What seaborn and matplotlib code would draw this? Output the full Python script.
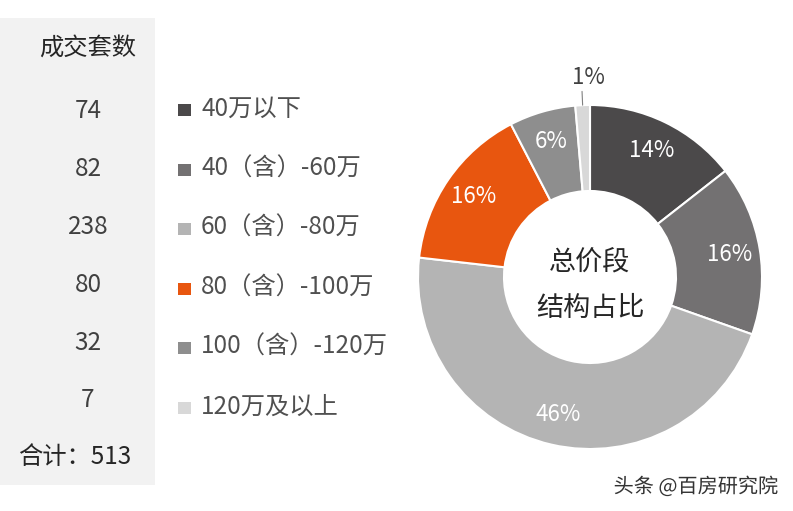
import matplotlib
matplotlib.use("Agg")
import matplotlib.pyplot as plt
import seaborn as sns
import numpy as np
from matplotlib.patches import Rectangle
import matplotlib.patheffects as pe

# data
segments = ["40万以下", "40（含）-60万", "60（含）-80万", "80（含）-100万", "100（含）-120万", "120万及以上"]
deals = [74, 82, 238, 80, 32, 7]
total = 513
colors = ["#4b494a", "#737172", "#b4b4b4", "#e8560f", "#8e8e8e", "#d8d8d8"]

sns.set_theme(style="white")
plt.rcParams["font.family"] = ["Noto Sans CJK SC", "DejaVu Sans"]

W, H = 793, 511
fig = plt.figure(figsize=(W / 100, H / 100), dpi=100)
fig.patch.set_facecolor("white")

# overlay in pixel coordinates for the table + legend
ov = fig.add_axes([0, 0, 1, 1])
ov.set_xlim(0, W)
ov.set_ylim(H, 0)
ov.axis("off")

ov.add_patch(Rectangle((0, 18), 155, 467, facecolor="#f2f2f2", edgecolor="none"))
ov.text(88, 48, "成交套数", ha="center", va="center", fontsize=17.5, color="#262626")

num_y = [111, 169, 227, 285, 343, 400]
leg_y = [109, 169, 228, 288, 347, 407]
for ny, ly, n, label, c in zip(num_y, leg_y, deals, segments, colors):
    ov.text(88, ny, str(n), ha="center", va="center", fontsize=17.5, color="#404040")
    ov.add_patch(Rectangle((178, ly - 5), 13, 12, facecolor=c, edgecolor="none"))
    ov.text(201, ly, label, ha="left", va="center", fontsize=17.5, color="#505050")
ov.text(75, 457, f"合计：{total}", ha="center", va="center", fontsize=17.5, color="#262626")

ov.text(778, 487, "头条 @百房研究院", ha="right", va="center", fontsize=14.5, color="#333333",
        path_effects=[pe.withStroke(linewidth=2, foreground="white")])

# donut
cx, cy, r = 590, 277, 172
ax = fig.add_axes([(cx - r) / W, (H - cy - r) / H, 2 * r / W, 2 * r / H])
wedges, texts, autotexts = ax.pie(
    deals, colors=colors, startangle=90, counterclock=False,
    autopct="%.0f%%", pctdistance=0.82, radius=1,
    wedgeprops=dict(width=0.5, edgecolor="white", linewidth=1.5),
    textprops=dict(color="white", fontsize=16),
)
ax.set_xlim(-1, 1)
ax.set_ylim(-1, 1)
ax.set_aspect("auto")
ax.axis("off")

# smallest slice: label outside with a short leader line
w = wedges[-1]
ang = np.deg2rad((w.theta1 + w.theta2) / 2)
autotexts[-1].set_position((1.16 * np.cos(ang) + 0.04, 1.16 * np.sin(ang)))
autotexts[-1].set_color("#404040")
autotexts[-1].set_fontsize(16)
ax.plot([1.0 * np.cos(ang), 1.08 * np.cos(ang)], [1.0 * np.sin(ang), 1.08 * np.sin(ang)],
        color="#808080", lw=0.8, clip_on=False)

ax.text(0, 0.09, "总价段", ha="center", va="center", fontsize=19.5, color="#262626")
ax.text(0, -0.18, "结构占比", ha="center", va="center", fontsize=19.5, color="#262626")

fig.savefig("out.png", dpi=100)
